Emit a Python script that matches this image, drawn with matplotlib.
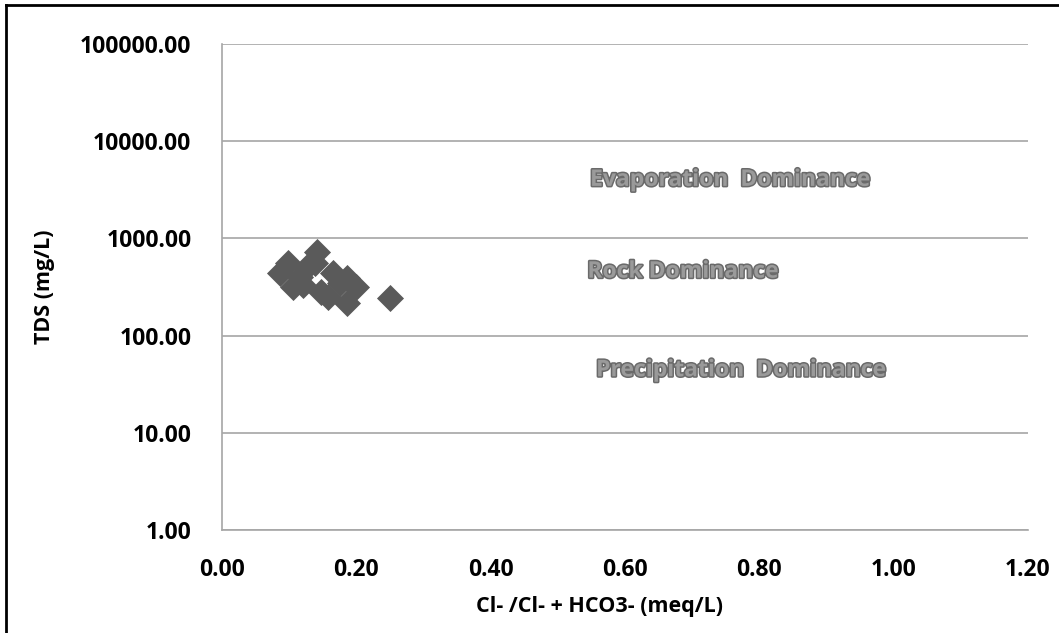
import matplotlib
matplotlib.use("Agg")
import matplotlib.pyplot as plt
import matplotlib.patheffects as pe
from matplotlib.lines import Line2D

# Gibbs diagram data
cl_ratio = [0.141, 0.086, 0.098, 0.106, 0.116, 0.126, 0.138, 0.121,
            0.148, 0.166, 0.176, 0.186, 0.200, 0.186, 0.158, 0.250]
tds = [730, 441, 560, 316, 400, 510, 560, 330,
       280, 440, 350, 390, 316, 216, 250, 245]

x_ticks = [0.0, 0.2, 0.4, 0.6, 0.8, 1.0, 1.2]
y_ticks = [1, 10, 100, 1000, 10000, 100000]

zone_labels = ["Evaporation  Dominance", "Rock Dominance", "Precipitation  Dominance"]
zone_x = [0.548, 0.544, 0.557]
zone_y = [4000, 455, 44]

plt.rcParams["font.family"] = ["Open Sans", "DejaVu Sans"]

fig = plt.figure(figsize=(10.59, 6.33), dpi=100)
ax = fig.add_axes([0.2096, 0.1627, 0.7611, 0.7678])

ax.scatter(cl_ratio, tds, marker="D", s=190, color="#5a5a5a", linewidths=0, zorder=3)

ax.set_yscale("log")
ax.set_xlim(0, 1.2)
ax.set_ylim(1, 100000)
ax.set_xticks(x_ticks)
ax.set_xticklabels([f"{v:.2f}" for v in x_ticks], fontsize=16.5, fontweight="bold")
ax.set_yticks(y_ticks)
ax.set_yticklabels([f"{v:.2f}" for v in y_ticks], fontsize=16.5, fontweight="bold")
ax.minorticks_off()
ax.tick_params(axis="y", length=0, pad=22)
ax.tick_params(axis="x", length=0, pad=20)
ax.grid(axis="y", color="#a6a6a6", linewidth=1.2)
ax.set_axisbelow(True)

for s in ["top", "right"]:
    ax.spines[s].set_visible(False)
for s in ["left", "bottom"]:
    ax.spines[s].set_color("#a6a6a6")
    ax.spines[s].set_linewidth(1.2)

for label, x, y in zip(zone_labels, zone_x, zone_y):
    ax.text(x, y, label, fontsize=16.5, fontweight="bold", color="#9a9a9a",
            va="center", ha="left",
            path_effects=[pe.withStroke(linewidth=2.2, foreground="#6a6a6a")])

ax.set_xlabel("Cl- /Cl- + HCO3- (meq/L)", fontsize=15.5, fontweight="bold", va="center")
ax.xaxis.set_label_coords(0.469, -0.158)
ax.set_ylabel("TDS (mg/L)", fontsize=15.5, fontweight="bold", va="center")
ax.yaxis.set_label_coords(-0.2196, 0.5)

# outer frame: only top and left edges are visible in the source
fig.lines.append(Line2D([0.0055, 1.0], [0.992, 0.992], transform=fig.transFigure,
                        color="black", linewidth=2))
fig.lines.append(Line2D([0.0055, 0.0055], [0.0, 0.992], transform=fig.transFigure,
                        color="black", linewidth=2))

fig.savefig("out.png", dpi=100)
